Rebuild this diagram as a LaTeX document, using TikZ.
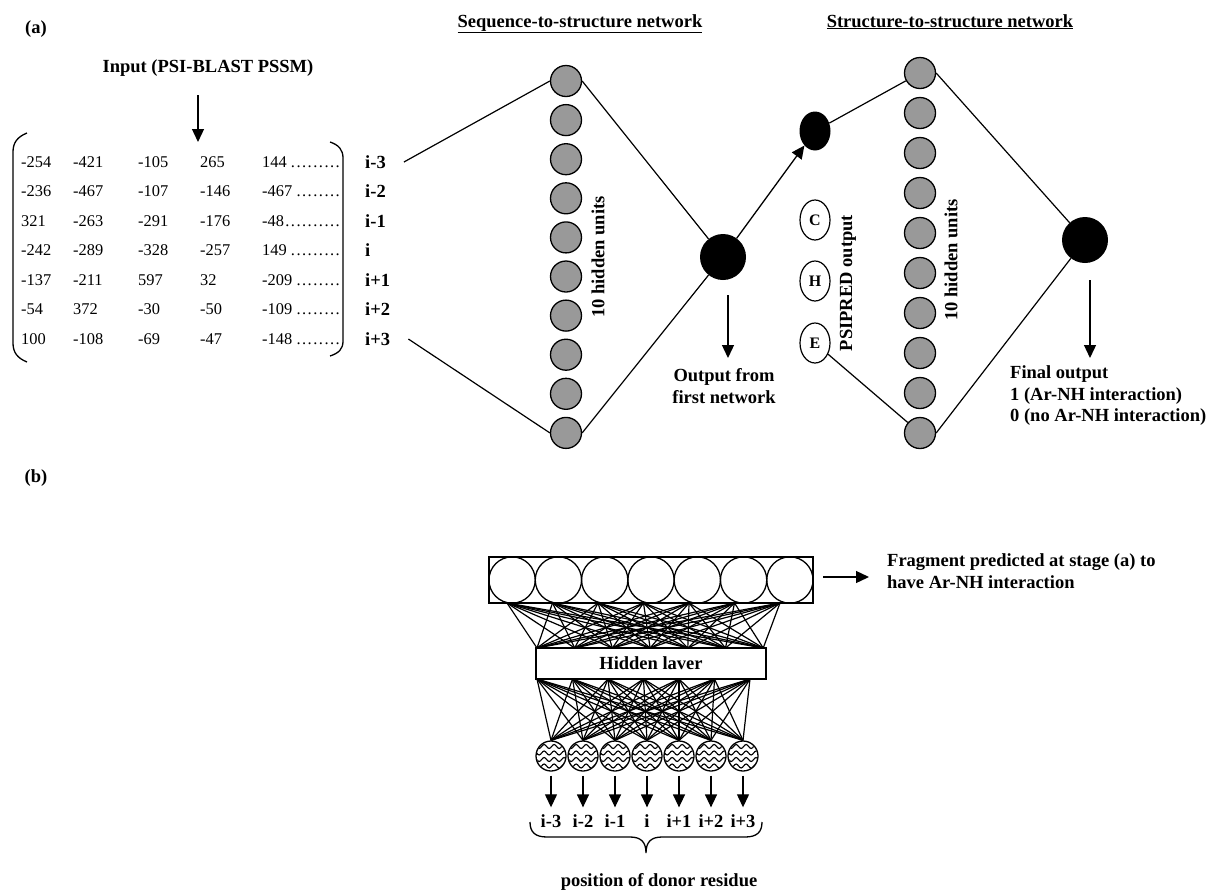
\documentclass[tikz,border=0pt]{standalone}
\usepackage{fontspec}
\setmainfont{Liberation Serif}
\usetikzlibrary{arrows.meta,decorations.pathmorphing,shapes.geometric}
\newcommand\mydots{\leaders\hbox to 5.6pt{\hss.\hss}\hfill}
\begin{document}
\begin{tikzpicture}[x=1pt,y=-1pt,
  lbl/.style={font=\fontsize{18.5}{21.5}\selectfont\bfseries, inner sep=0pt},
  num/.style={font=\fontsize{16.4}{18}\selectfont, inner sep=0pt, anchor=west},
  hid/.style={circle, draw, line width=1.3pt, fill=black!40, minimum size=31pt, inner sep=0pt},
  blk/.style={circle, fill=black, minimum size=46pt, inner sep=0pt},
  che/.style={ellipse, draw, line width=1.2pt, fill=white, minimum width=30pt, minimum height=40pt, inner sep=0pt, font=\fontsize{16}{18}\selectfont\bfseries},
  conn/.style={line width=1.2pt},
  arr/.style={line width=1.3pt, -{Triangle[length=13pt,width=12pt]}},
  wc/.style={circle, draw, line width=1.3pt, minimum size=30pt, inner sep=0pt},
  tc/.style={circle, draw, line width=1.3pt, minimum size=46.3pt, inner sep=0pt},
  mesh/.style={line width=1.2pt},
  wave/.style={decorate, decoration={snake, amplitude=2pt, segment length=10pt}, line width=1.1pt}
]
\useasboundingbox[fill=white] (0,0) rectangle (1210,892);

% ---------- (a) ----------
\node[lbl] (la) at (36,29) {(a)};
\node[lbl] (inp) at (208,68) {Input (PSI-BLAST PSSM)};
\coordinate (ia) at (198,95);
\coordinate (ib) at (198,142);
\draw[arr] (ia) -- (ib);

% brackets
\draw[line width=1.3pt] (27,133) .. controls (17,137) and (13,143) .. (13,152) -- (13,343) .. controls (13,352) and (17,358) .. (27,362);
\draw[line width=1.3pt] (330,142) .. controls (339,145) and (343,150) .. (343,158) -- (343,341) .. controls (343,349) and (339,353) .. (330,356);

\foreach \va/\vb/\vc/\vd/\ve/\vl [count=\k from 0] in {
  -254/-421/-105/265/144/i-3,
  -236/-467/-107/-146/-467/i-2,
  321/-263/-291/-176/-48/i-1,
  -242/-289/-328/-257/149/i,
  -137/-211/597/32/-209/i+1,
  -54/372/-30/-50/-109/i+2,
  100/-108/-69/-47/-148/i+3}
{
  \node[num] (ma\k) at (21,{162+29.5*\k}) {\va};
  \node[num] (mb\k) at (73,{162+29.5*\k}) {\vb};
  \node[num] (mc\k) at (138,{162+29.5*\k}) {\vc};
  \node[num] (md\k) at (200,{162+29.5*\k}) {\vd};
  \node[num] (me\k) at (262,{162+29.5*\k}) {\makebox[79pt][l]{\ve\mydots}};
  \node[lbl, anchor=west] (ml\k) at (365,{162+29.5*\k}) {\vl};
}

% first network
\node[lbl, anchor=base] (t1) at (580,27) {\underline{Sequence-to-structure network}};
\foreach \j in {1,...,10}
  \node[hid] (h\j) at (566,{81+39.1*(\j-1)}) {};
\node[lbl, rotate=90] (hu1) at (598,257) {10 hidden units};
\node[blk] (o1) at (723,257) {};
\draw[conn] ([xshift=18pt]ml0.east) -- (h1.west);
\draw[conn] ([xshift=18pt]ml6.east) -- (h10.west);
\draw[conn] (h1.east) -- (o1);
\draw[conn] (h10.east) -- (o1);
\coordinate (oa) at (728,295);
\coordinate (ob) at (728,358);
\draw[arr] (oa) -- (ob);
\node[lbl, align=center] (of) at (724,386) {Output from\\first network};

% second network
\node[lbl, anchor=base] (t2) at (950,27) {\underline{Structure-to-structure network}};
\node[ellipse, fill=black, minimum width=31pt, minimum height=39pt, inner sep=0pt] (sm) at (815,131) {};
\draw[arr] (o1) -- (sm);
\node[che] (cC) at (815,220) {C};
\node[che] (cH) at (815,281) {H};
\node[che] (cE) at (815,343) {E};
\node[lbl, rotate=90] (ps) at (848,283) {PSIPRED output};
\foreach \j in {1,...,10}
  \node[hid] (g\j) at (920,{73+40*(\j-1)}) {};
\node[lbl, rotate=90] (hu2) at (951,260) {10 hidden units};
\node[blk] (o2) at (1085,240) {};
\draw[conn] (sm) -- (g1);
\draw[conn] (cE) -- (g10);
\draw[conn] (g1.east) -- (o2);
\draw[conn] (g10.east) -- (o2);
\coordinate (fa) at (1090,280);
\coordinate (fb) at (1090,358);
\draw[arr] (fa) -- (fb);
\node[lbl, align=left, anchor=west] (fo) at (1010,396) {Final output\\1 (Ar-NH interaction)\\0 (no Ar-NH interaction)};

% ---------- (b) ----------
\node[lbl] (lb) at (36,478) {(b)};
\node[draw, line width=1.3pt, minimum width=324pt, minimum height=46pt, inner sep=0pt] (trect) at (651,580) {};
\foreach \k in {1,...,7}
  \node[tc] (c\k) at ({512.1+46.3*(\k-1)},580) {};
\coordinate (ra) at (823,577);
\coordinate (rb) at (869,577);
\draw[arr] (ra) -- (rb);
\node[lbl, align=left, anchor=west] (frag) at (887,571) {Fragment predicted at stage (a) to\\have Ar-NH interaction};

\node[draw, line width=1.3pt, minimum width=230pt, minimum height=31pt, inner sep=0pt, lbl] (hl) at (651,663.5) {Hidden laver};

\foreach \i in {1,...,7} {
  \coordinate (p\i) at ({507+45.5*(\i-1)},603);
  \coordinate (q\i) at ({537+37.7*(\i-1)},648);
  \coordinate (r\i) at ({537+35.5*(\i-1)},679);
}
\foreach \i in {1,...,7}
  \foreach \j in {1,...,7}
    \draw[mesh] (p\i) -- (q\j);

\foreach \k in {1,...,7} {
  \node[wc] (w\k) at ({551+32*(\k-1)},756) {};
  \begin{scope}
    \clip (w\k.center) circle (14.3pt);
    \foreach \dy in {-9.5,-3,3.5,10}
      \draw[wave] ([shift={(-20,\dy)}]w\k.center) -- ([shift={(20,\dy)}]w\k.center);
  \end{scope}
}
\foreach \i in {1,...,7}
  \foreach \j in {1,...,7}
    \draw[mesh] (r\i) -- (w\j.north);

\foreach \t [count=\k] in {i-3,i-2,i-1,i,i+1,i+2,i+3} {
  \node[lbl] (L\k) at ({551+32*(\k-1)},821) {\t};
  \draw[arr] ([yshift=-4pt]w\k.south) -- ([yshift=7pt]L\k.north);
}
\draw[line width=1.3pt] (530,822) .. controls (530,832) and (535,837) .. (547,837) -- (630,837) .. controls (641,837) and (646,842) .. (646,853) .. controls (646,842) and (651,837) .. (662,837) -- (745,837) .. controls (757,837) and (762,832) .. (762,822);
\node[lbl] (pos) at (659,882) {position of donor residue};
\end{tikzpicture}
\end{document}
